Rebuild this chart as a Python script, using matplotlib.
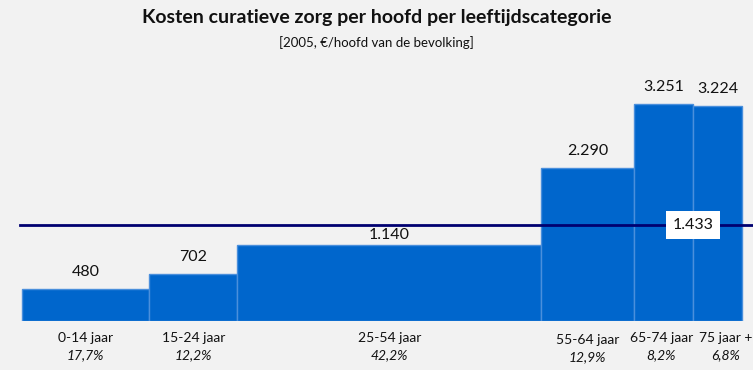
import matplotlib
matplotlib.use("Agg")
import matplotlib.pyplot as plt
import numpy as np

categories = ["0-14 jaar", "15-24 jaar", "25-54 jaar", "55-64 jaar", "65-74 jaar", "75 jaar +"]
share_labels = ["17,7%", "12,2%", "42,2%", "12,9%", "8,2%", "6,8%"]
shares = [17.7, 12.2, 42.2, 12.9, 8.2, 6.8]
costs = [480, 702, 1140, 2290, 3251, 3224]
cost_labels = ["480", "702", "1.140", "2.290", "3.251", "3.224"]
average = 1433
average_label = "1.433"

plt.rcParams["font.family"] = ["Lato", "DejaVu Sans"]
bg = "#f2f2f2"
blue = "#0066cc"

fig = plt.figure(figsize=(7.53, 3.70), dpi=100, facecolor=bg)
ax = fig.add_axes([0, 49 / 370, 1, 247 / 370])
ax.set_facecolor(bg)

lefts = np.concatenate([[0], np.cumsum(shares)[:-1]])
centers = lefts + np.array(shares) / 2
ax.bar(lefts, costs, width=shares, align="edge", color=blue,
       edgecolor="#4a8fdc", linewidth=1)

# label offsets (points) as placed in the original
offsets = [7, 7, 2, 7, 7, 7]
for c, v, lab, off in zip(centers, costs, cost_labels, offsets):
    ax.annotate(lab, (c, v), xytext=(0, off), textcoords="offset points",
                ha="center", va="bottom", fontsize=11.5, color="#111111")

ax.axhline(average, xmin=20 / 753, color="#000070", linewidth=2, zorder=3)
ax.text(centers[4] + 4.1, average, average_label, ha="center", va="center",
        fontsize=11.5, color="#111111", zorder=4,
        bbox=dict(facecolor="white", edgecolor="none", pad=5))

# px 22..742 hold the bars
ax.set_xlim(-22 / 7.2, (753 - 22) / 7.2)
ax.set_ylim(0, 3700)
ax.axis("off")

label_shift = [0, 0, 0, 0, -2, 8]
for c, cat, sh, s in zip(centers, categories, share_labels, label_shift):
    x = (ax.transData.transform((c, 0))[0] + s) / 753
    dy = 0.006 if cat == "55-64 jaar" else 0
    fig.text(x, 1 - 338 / 370 - dy, cat, ha="center", va="center",
             fontsize=10, color="#111111")
    fig.text(x, 1 - 355 / 370 - dy, sh, ha="center", va="center",
             fontsize=10, style="italic", color="#111111")

fig.text(0.5, 1 - 18 / 370, "Kosten curatieve zorg per hoofd per leeftijdscategorie",
         ha="center", va="center", fontsize=14, fontweight="bold", color="#111111")
fig.text(0.5, 1 - 43 / 370, "[2005, €/hoofd van de bevolking]",
         ha="center", va="center", fontsize=9.5, color="#111111")

fig.savefig("out.png", dpi=100, facecolor=bg)
